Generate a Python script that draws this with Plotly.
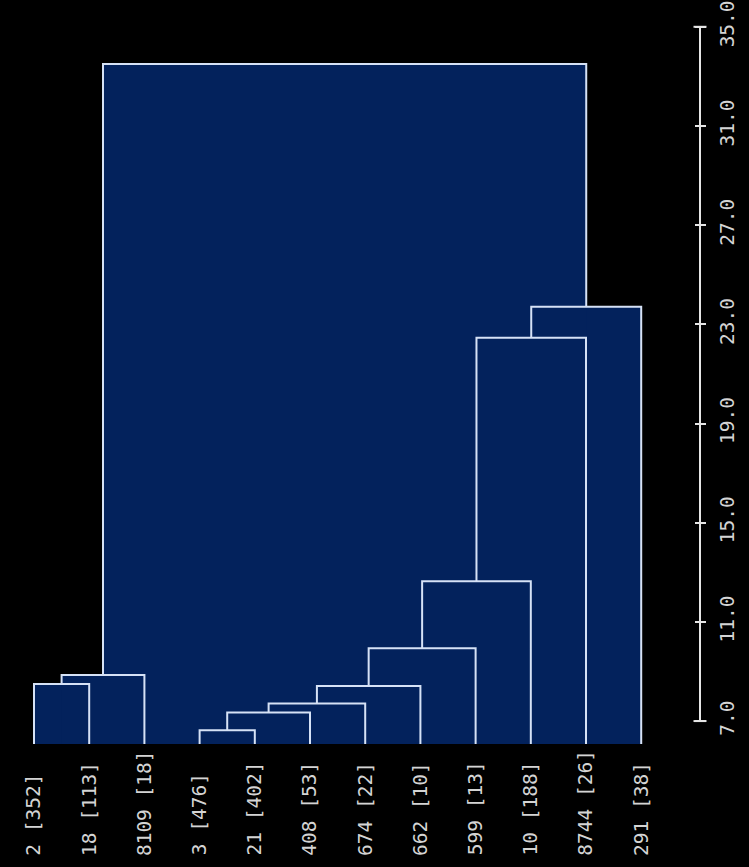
import plotly.graph_objects as go

# ---- data ----
leaf_labels = ["2 [352]", "18 [113]", "8109 [18]", "3 [476]", "21 [402]", "408 [53]",
               "674 [22]", "662 [10]", "599 [13]", "10 [188]", "8744 [26]", "291 [38]"]
# merge k creates cluster id len(leaf_labels)+k
merge_left = [0, 12, 3, 14, 15, 16, 17, 18, 19, 20, 13]
merge_right = [1, 2, 4, 5, 6, 7, 8, 9, 10, 11, 21]
merge_height = [8.49, 8.86, 6.63, 7.35, 7.71, 8.41, 9.94, 12.64, 22.46, 23.71, 33.50]
leaf_height = 0.0

tick_vals = [7, 11, 15, 19, 23, 27, 31, 35]
tick_text = ["7.0", "11.0", "15.0", "19.0", "23.0", "27.0", "31.0", "35.0"]

# ---- styles ----
NAVY = "#03225c"
LINE = "#d6e2f6"
TEXT = "#d4d4d4"
FONT = "DejaVu Sans Mono"

n = len(leaf_labels)
pos = {i: float(i) for i in range(n)}
hgt = {i: leaf_height for i in range(n)}
links = []
for k, (a, b, h) in enumerate(zip(merge_left, merge_right, merge_height)):
    links.append(([pos[a], pos[a], pos[b], pos[b]], [hgt[a], h, h, hgt[b]]))
    pos[n + k] = (pos[a] + pos[b]) / 2
    hgt[n + k] = h

fig = go.Figure()
for xs, ys in links:
    fig.add_trace(go.Scatter(x=xs, y=ys, mode="lines", line=dict(width=0, color=NAVY),
                             fill="tozeroy", fillcolor=NAVY, hoverinfo="skip",
                             showlegend=False))
for xs, ys in links:
    fig.add_trace(go.Scatter(x=xs, y=ys, mode="lines", line=dict(color=LINE, width=2),
                             showlegend=False))
fig.add_trace(go.Scatter(x=[], y=[], yaxis="y2", showlegend=False))

yrange = [6.075, 36.0]
fig.update_layout(
    width=749, height=867,
    margin=dict(l=0, r=49, t=0, b=123),
    paper_bgcolor="#000000", plot_bgcolor="#000000",
    showlegend=False,
    xaxis=dict(range=[-0.616, 12.065], showgrid=False, zeroline=False,
               showticklabels=False, ticks="", showline=False),
    yaxis=dict(range=yrange, side="right", tickvals=tick_vals, ticktext=tick_text,
               tickangle=-90, ticks="outside", ticklen=5, tickwidth=2, tickcolor="#e6e6e6",
               showgrid=False, zeroline=False, showline=False, ticklabeloverflow="allow",
               tickfont=dict(family=FONT, size=19.5, color=TEXT), ticklabelstandoff=5),
    yaxis2=dict(range=yrange, overlaying="y", side="right", tickvals=tick_vals,
                ticks="inside", ticklen=5, tickwidth=2, tickcolor="#e6e6e6",
                showticklabels=False, showgrid=False, zeroline=False, showline=False),
    shapes=[
        dict(type="line", xref="paper", yref="y", x0=1, x1=1, y0=7, y1=35,
             line=dict(color="#e6e6e6", width=2)),
        dict(type="line", xref="paper", xsizemode="pixel", xanchor=1, x0=-6.5, x1=6.5,
             yref="y", y0=7, y1=7, line=dict(color="#e6e6e6", width=2)),
        dict(type="line", xref="paper", xsizemode="pixel", xanchor=1, x0=-6.5, x1=6.5,
             yref="y", y0=35, y1=35, line=dict(color="#e6e6e6", width=2)),
    ],
)

for i, lab in enumerate(leaf_labels):
    fig.add_annotation(x=i, xref="x", y=-(858 - 744) / 744, yref="paper",
                       yanchor="bottom", xanchor="center", textangle=-90,
                       text=lab, showarrow=False,
                       font=dict(family=FONT, size=19.5, color=TEXT))

fig.write_html("out.html", config={"displayModeBar": False},
               post_script="document.body.style.margin='0';"
                           "document.body.style.background='#000';")
